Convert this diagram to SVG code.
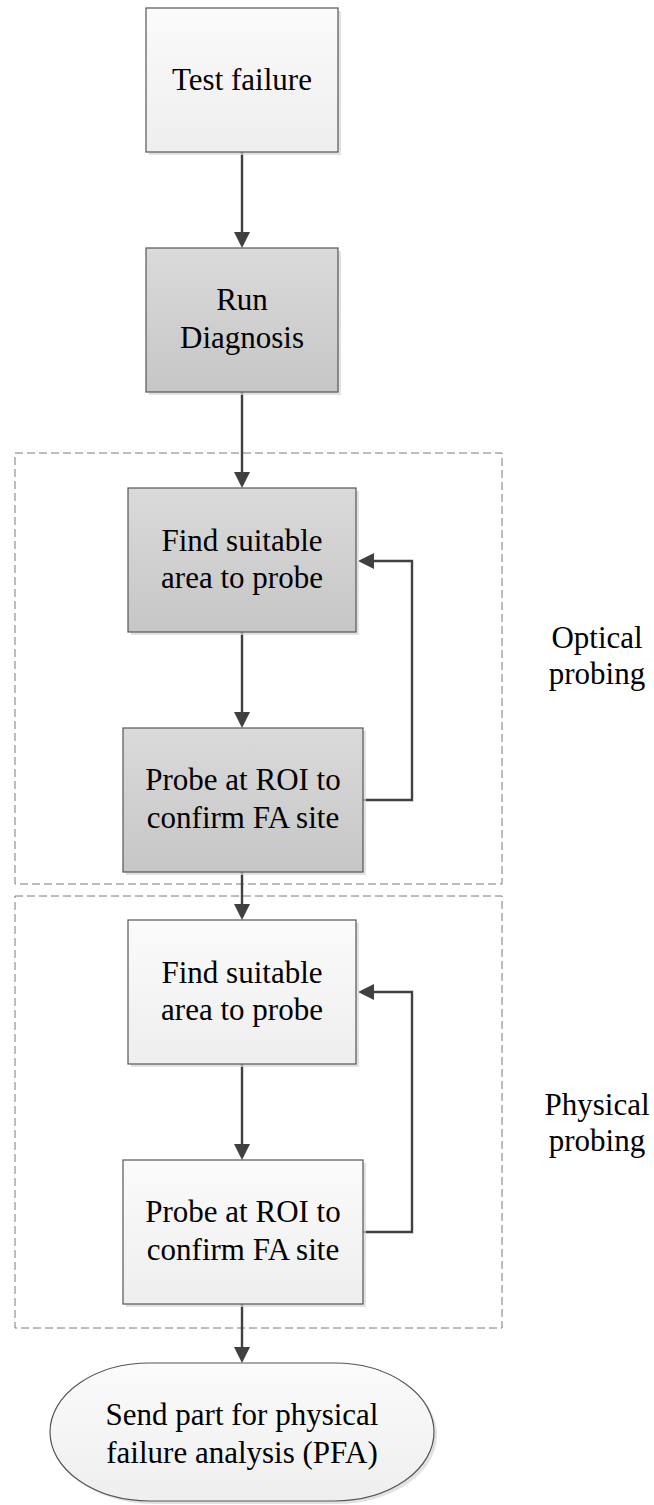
<svg xmlns="http://www.w3.org/2000/svg" width="654" height="1505" viewBox="0 0 654 1505">
<defs>
<linearGradient id="gLight" x1="0" y1="0" x2="0" y2="1"><stop offset="0" stop-color="#fbfbfb"/><stop offset="1" stop-color="#eeeeee"/></linearGradient>
<linearGradient id="gDark" x1="0" y1="0" x2="0" y2="1"><stop offset="0" stop-color="#dadada"/><stop offset="1" stop-color="#c6c6c6"/></linearGradient>
<marker id="arr" markerUnits="userSpaceOnUse" viewBox="0 0 16 16" markerWidth="16" markerHeight="16" refX="12" refY="8" orient="auto"><path d="M0,0 L16,8 L0,16 z" fill="#404040"/></marker>
</defs>
<style>
.box{stroke:#555555;stroke-width:1.2}
.light{fill:url(#gLight)}
.dark{fill:url(#gDark)}
.shadow{fill:#d6d6d6;opacity:0.7}
.t{font-family:"Liberation Serif","Times New Roman",serif;font-size:31px;fill:#000;text-anchor:middle}
.conn{fill:none;stroke:#404040;stroke-width:2.4;marker-end:url(#arr)}
.group{fill:none;stroke:#7a7a7a;stroke-width:1;stroke-dasharray:8 4}
</style>
<g id="group-optical">
<rect class="group" x="15" y="453" width="487" height="431"/>
<text class="t" x="597" y="648">Optical</text>
<text class="t" x="597" y="684">probing</text>
</g>
<g id="group-physical">
<rect class="group" x="15" y="896" width="487" height="432"/>
<text class="t" x="597" y="1115">Physical</text>
<text class="t" x="597" y="1151">probing</text>
</g>
<g id="connectors">
<path class="conn" d="M242,152 V244"/>
<path class="conn" d="M242,392 V484"/>
<path class="conn" d="M242,632 V724"/>
<path class="conn" d="M363,800 H412 V561 H362"/>
<path class="conn" d="M242,872 V916"/>
<path class="conn" d="M242,1064 V1156"/>
<path class="conn" d="M363,1232 H412 V992 H362"/>
<path class="conn" d="M242,1304 V1359"/>
</g>
<g id="n-test-failure">
<rect class="shadow" x="149" y="11" width="192" height="144"/>
<rect class="box light" x="146" y="8" width="192" height="144"/>
<text class="t" x="242" y="90">Test failure</text>
</g>
<g id="n-run-diagnosis">
<rect class="shadow" x="149" y="251" width="192" height="144"/>
<rect class="box dark" x="146" y="248" width="192" height="144"/>
<text class="t" x="242" y="310">Run</text>
<text class="t" x="242" y="348">Diagnosis</text>
</g>
<g id="n-find-optical">
<rect class="shadow" x="131" y="491" width="228" height="144"/>
<rect class="box dark" x="128" y="488" width="228" height="144"/>
<text class="t" x="242" y="551">Find suitable</text>
<text class="t" x="242" y="588">area to probe</text>
</g>
<g id="n-probe-optical">
<rect class="shadow" x="126" y="731" width="240" height="144"/>
<rect class="box dark" x="123" y="728" width="240" height="144"/>
<text class="t" x="243" y="790">Probe at ROI to</text>
<text class="t" x="243" y="828">confirm FA site</text>
</g>
<g id="n-find-physical">
<rect class="shadow" x="131" y="923" width="228" height="144"/>
<rect class="box light" x="128" y="920" width="228" height="144"/>
<text class="t" x="242" y="983">Find suitable</text>
<text class="t" x="242" y="1020">area to probe</text>
</g>
<g id="n-probe-physical">
<rect class="shadow" x="126" y="1163" width="240" height="144"/>
<rect class="box light" x="123" y="1160" width="240" height="144"/>
<text class="t" x="243" y="1222">Probe at ROI to</text>
<text class="t" x="243" y="1260">confirm FA site</text>
</g>
<g id="n-send-pfa">
<rect class="shadow" x="53" y="1366" width="384" height="138" rx="100" ry="69"/>
<rect class="box light" x="50" y="1363" width="384" height="138" rx="100" ry="69"/>
<text class="t" x="242" y="1425">Send part for physical</text>
<text class="t" x="242" y="1463">failure analysis (PFA)</text>
</g>
</svg>
